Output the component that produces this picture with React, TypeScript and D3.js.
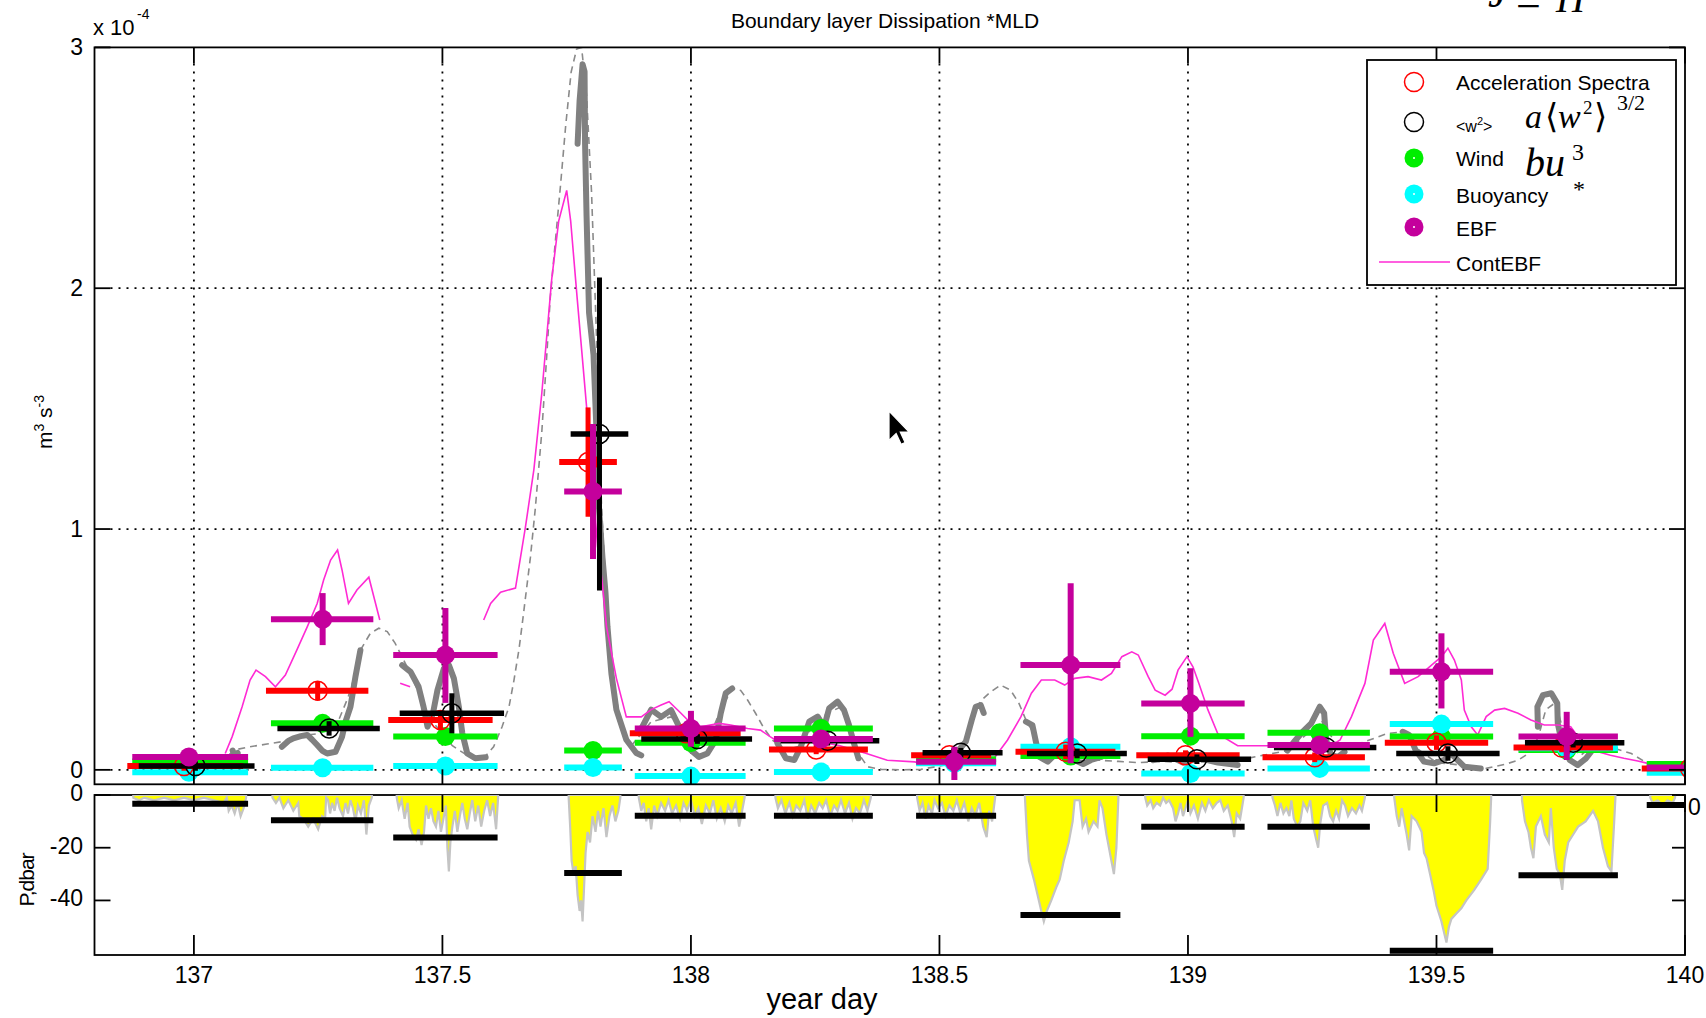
import React from "react";
import * as d3 from "d3";

// ---------- axes / ticks ----------
const xTicks = [137, 137.5, 138, 138.5, 139, 139.5, 140];
const xTickLabels = ["137", "137.5", "138", "138.5", "139", "139.5", "140"];
const xGrid = [137, 137.5, 138, 138.5, 139, 139.5];
const yTicksMain = [0, 1, 2, 3];
const yGridMain = [0, 1, 2];
const yTicksBot = [0, -20, -40];

// ---------- profile intervals (year day) ----------
const intStart = [136.876, 137.155, 137.401, 137.745, 137.887, 138.167, 138.453, 138.663, 138.906, 139.16, 139.406, 139.665, 139.923];
const intEnd = [137.109, 137.361, 137.611, 137.861, 138.11, 138.366, 138.614, 138.864, 139.114, 139.366, 139.614, 139.865, 140.12];
const intCenter = [136.99, 137.259, 137.506, 137.803, 138.0, 138.262, 138.53, 138.764, 139.005, 139.265, 139.51, 139.762, 140.02];

// ---------- dissipation estimates (x 1e-4 m^3 s^-3) ----------
const accelVal = [0.016, 0.328, 0.207, 1.278, 0.152, 0.085, 0.061, 0.075, 0.061, 0.052, 0.113, 0.093, 0.006];
const accelErr = [0.02, 0.04, 0.04, 0.227, 0.02, 0.02, 0.02, 0.03, 0.02, 0.02, 0.03, 0.02, 0];
const w2Val = [0.016, 0.172, 0.235, 1.395, 0.128, 0.121, 0.071, 0.068, 0.044, 0.093, 0.068, 0.113, null];
const w2Err = [0.02, 0.03, 0.083, 0.65, 0.02, 0.02, 0.02, 0.02, 0.02, 0.02, 0.03, 0.02, 0];
const windVal = [0.035, 0.193, 0.138, 0.08, 0.113, 0.172, 0.044, 0.057, 0.14, 0.154, 0.138, 0.082, 0.024];
const buoyVal = [-0.01, 0.009, 0.016, 0.01, -0.026, -0.009, 0.027, 0.096, -0.015, 0.006, 0.19, 0.09, -0.012];
const ebfVal = [0.053, 0.625, 0.477, 1.156, 0.172, 0.128, 0.034, 0.435, 0.276, 0.103, 0.407, 0.138, 0.01];
const ebfErrUp = [0.03, 0.109, 0.195, 0.28, 0.073, 0.02, 0.062, 0.34, 0.146, 0.03, 0.16, 0.103, 0];
const ebfErrDown = [0.03, 0.107, 0.199, 0.28, 0.076, 0.02, 0.076, 0.408, 0.139, 0.03, 0.152, 0.097, 0];

// ---------- continuous dissipation (thick gray, per profile) ----------
const dissGray: number[][][] = [
  [[137.078, 0.08], [137.082, 0.06], [137.088, 0.07]],
  [[137.177, 0.096], [137.19, 0.12], [137.2, 0.131], [137.215, 0.14], [137.228, 0.145], [137.238, 0.125], [137.248, 0.103], [137.258, 0.08], [137.268, 0.068], [137.285, 0.075], [137.298, 0.137], [137.305, 0.2], [137.315, 0.262], [137.325, 0.387], [137.335, 0.497]],
  [[137.419, 0.435], [137.436, 0.407], [137.452, 0.345], [137.462, 0.262], [137.47, 0.179], [137.481, 0.235], [137.49, 0.331], [137.503, 0.421], [137.513, 0.435], [137.523, 0.38], [137.533, 0.262], [137.54, 0.152], [137.55, 0.068], [137.566, 0.048], [137.587, 0.052]],
  [[137.772, 2.6], [137.776, 2.78], [137.782, 2.93], [137.786, 2.9], [137.787, 2.6], [137.79, 2.3], [137.795, 1.898], [137.804, 1.723], [137.81, 1.405], [137.815, 1.088], [137.822, 0.882], [137.828, 0.739], [137.832, 0.596], [137.84, 0.4], [137.85, 0.25], [137.87, 0.125], [137.89, 0.07], [137.9, 0.06]],
  [[137.9, 0.17], [137.92, 0.25], [137.94, 0.22], [137.96, 0.248], [137.973, 0.193], [137.986, 0.137], [138.0, 0.082], [138.016, 0.054], [138.033, 0.068], [138.05, 0.124], [138.06, 0.235], [138.07, 0.318], [138.083, 0.338]],
  [[138.174, 0.11], [138.191, 0.048], [138.208, 0.041], [138.221, 0.096], [138.238, 0.2], [138.255, 0.221], [138.268, 0.179], [138.278, 0.255], [138.295, 0.283], [138.308, 0.248], [138.318, 0.186], [138.327, 0.117], [138.337, 0.048]],
  [[138.536, 0.075], [138.553, 0.117], [138.565, 0.207], [138.573, 0.262], [138.583, 0.269], [138.589, 0.236]],
  [[138.674, 0.2], [138.687, 0.186], [138.694, 0.117], [138.701, 0.054], [138.718, 0.034], [138.738, 0.075], [138.755, 0.068], [138.772, 0.041], [138.789, 0.024], [138.805, 0.041], [138.826, 0.054], [138.84, 0.08], [138.85, 0.06]],
  [[138.93, 0.04], [138.96, 0.06], [138.99, 0.03], [139.02, 0.05], [139.06, 0.03], [139.1, 0.02]],
  [[139.2, 0.08], [139.215, 0.12], [139.228, 0.152], [139.248, 0.193], [139.265, 0.262], [139.274, 0.235], [139.278, 0.124], [139.288, 0.061], [139.302, 0.054], [139.315, 0.075]],
  [[139.432, 0.158], [139.445, 0.145], [139.458, 0.082], [139.475, 0.034], [139.495, 0.027], [139.516, 0.041], [139.529, 0.068], [139.542, 0.041], [139.556, 0.013], [139.589, 0.006]],
  [[139.704, 0.179], [139.703, 0.262], [139.714, 0.31], [139.731, 0.318], [139.743, 0.276], [139.744, 0.193], [139.754, 0.096], [139.768, 0.041], [139.784, 0.02], [139.801, 0.048], [139.811, 0.075]],
];

// ---------- smoothed dissipation (dashed gray) ----------
const dissSmooth = [
  [137.07, 0.06], [137.08, 0.082], [137.113, 0.096], [137.147, 0.107], [137.177, 0.117], [137.2, 0.131], [137.228, 0.145], [137.25, 0.15], [137.27, 0.17], [137.29, 0.2], [137.31, 0.3], [137.325, 0.4], [137.335, 0.497], [137.355, 0.567], [137.372, 0.588], [137.389, 0.574], [137.405, 0.525], [137.422, 0.456], [137.44, 0.38], [137.46, 0.28], [137.48, 0.2], [137.5, 0.15], [137.52, 0.1], [137.55, 0.06], [137.583, 0.048], [137.603, 0.096], [137.62, 0.179], [137.634, 0.262], [137.644, 0.373], [137.654, 0.5], [137.66, 0.596], [137.677, 0.882], [137.687, 1.088], [137.7, 1.405], [137.71, 1.723], [137.717, 1.961], [137.726, 2.167], [137.738, 2.437], [137.748, 2.675], [137.759, 2.898], [137.77, 2.993], [137.78, 3.0], [137.79, 2.8], [137.8, 2.4], [137.81, 1.8], [137.82, 1.1], [137.83, 0.7], [137.845, 0.35], [137.86, 0.18], [137.88, 0.1], [137.9, 0.15], [137.92, 0.2], [137.96, 0.22], [138.0, 0.15], [138.04, 0.15], [138.06, 0.25], [138.083, 0.338], [138.1, 0.33], [138.114, 0.29], [138.13, 0.235], [138.147, 0.172], [138.164, 0.124], [138.19, 0.08], [138.22, 0.1], [138.25, 0.2], [138.28, 0.24], [138.3, 0.26], [138.32, 0.18], [138.34, 0.06], [138.355, 0.013], [138.383, 0.002], [138.423, 0], [138.463, 0.002], [138.51, 0.02], [138.536, 0.075], [138.553, 0.117], [138.565, 0.207], [138.575, 0.26], [138.585, 0.29], [138.603, 0.324], [138.623, 0.352], [138.643, 0.331], [138.66, 0.276], [138.674, 0.207], [138.69, 0.15], [138.71, 0.06], [138.74, 0.06], [138.78, 0.04], [138.82, 0.04], [138.86, 0.035], [138.9, 0.03], [138.95, 0.035], [139.0, 0.03], [139.05, 0.035], [139.1, 0.04], [139.15, 0.06], [139.2, 0.08], [139.24, 0.15], [139.27, 0.2], [139.3, 0.1], [139.33, 0.1], [139.36, 0.12], [139.4, 0.15], [139.43, 0.158], [139.46, 0.09], [139.5, 0.03], [139.55, 0.02], [139.6, 0.006], [139.64, 0.024], [139.665, 0.041], [139.69, 0.075], [139.705, 0.138], [139.72, 0.25], [139.74, 0.28], [139.76, 0.12], [139.79, 0.06], [139.811, 0.096], [139.858, 0.089], [139.892, 0.068], [139.919, 0.034], [139.952, 0.027], [140, 0.024],
];

// ---------- ContEBF (pink), with gaps ----------
const contEbf: number[][][] = [
  [[137.063, 0.068], [137.077, 0.138], [137.097, 0.262], [137.113, 0.373], [137.125, 0.414], [137.144, 0.387], [137.164, 0.345], [137.184, 0.394], [137.207, 0.497], [137.228, 0.594], [137.248, 0.691], [137.261, 0.788], [137.275, 0.871], [137.289, 0.913], [137.298, 0.83], [137.311, 0.691], [137.328, 0.747], [137.352, 0.8], [137.362, 0.719], [137.374, 0.622]],
  [[137.415, 0.36], [137.435, 0.345]],
  [[137.583, 0.622], [137.597, 0.691], [137.617, 0.738], [137.647, 0.755], [137.667, 1.008], [137.684, 1.247], [137.7, 1.565], [137.72, 2.04], [137.734, 2.28], [137.75, 2.406], [137.758, 2.28], [137.771, 1.961], [137.781, 1.723], [137.791, 1.485], [137.802, 1.2], [137.812, 0.93], [137.822, 0.77], [137.83, 0.596], [137.85, 0.38], [137.87, 0.22], [137.9, 0.22], [137.92, 0.25], [137.94, 0.269], [137.956, 0.283], [137.98, 0.235], [138.0, 0.193], [138.02, 0.179], [138.057, 0.193], [138.08, 0.186], [138.114, 0.172], [138.14, 0.165], [138.16, 0.137], [138.17, 0.124], [138.2, 0.12], [138.25, 0.12], [138.3, 0.1], [138.35, 0.07], [138.395, 0.04], [138.45, 0.033], [138.463, 0.027], [138.53, 0.03], [138.577, 0.041], [138.61, 0.048], [138.637, 0.124], [138.664, 0.221], [138.685, 0.318], [138.705, 0.373], [138.732, 0.373], [138.752, 0.352], [138.772, 0.38], [138.799, 0.387], [138.826, 0.373], [138.846, 0.4], [138.867, 0.47], [138.887, 0.49], [138.9, 0.477], [138.92, 0.387], [138.934, 0.331], [138.954, 0.31], [138.968, 0.335], [138.98, 0.414], [138.998, 0.47], [139.01, 0.428], [139.022, 0.359], [139.04, 0.25], [139.06, 0.15], [139.1, 0.1], [139.2, 0.1], [139.28, 0.09], [139.306, 0.124], [139.329, 0.221], [139.356, 0.359], [139.373, 0.539], [139.396, 0.608], [139.413, 0.484], [139.436, 0.359], [139.463, 0.387], [139.486, 0.428], [139.51, 0.47], [139.523, 0.505], [139.536, 0.456], [139.55, 0.373], [139.556, 0.248], [139.57, 0.179], [139.583, 0.145], [139.6, 0.221], [139.617, 0.248], [139.637, 0.255], [139.664, 0.235], [139.69, 0.207], [139.717, 0.186], [139.744, 0.186], [139.77, 0.179], [139.797, 0.103], [139.825, 0.075], [139.85, 0.061], [139.877, 0.048], [139.905, 0.037], [139.925, 0.027], [139.95, 0.02], [140, 0.02]],
];

// ---------- pressure record (dbar) per profile ----------
const pressure: number[][][] = [
  [[136.878, -1], [136.89, -2], [136.9, -1], [136.92, -2], [136.94, -1], [136.96, -2], [136.98, -1], [137.0, -2], [137.02, -1], [137.04, -2], [137.06, -3], [137.066, -1], [137.07, -6], [137.076, -4], [137.082, -7], [137.088, -3], [137.094, -8], [137.1, -5], [137.105, -1]],
  [[137.158, -1], [137.165, -3], [137.172, -1], [137.18, -5], [137.19, -2], [137.2, -6], [137.21, -3], [137.212, -8], [137.22, -9], [137.23, -12], [137.24, -9], [137.25, -13], [137.258, -8], [137.264, -9], [137.266, -1], [137.27, -2], [137.274, -7], [137.278, -3], [137.283, -6], [137.288, -1], [137.293, -5], [137.3, -8], [137.305, -3], [137.31, -7], [137.315, -2], [137.32, -5], [137.325, -10], [137.33, -4], [137.336, -7], [137.342, -2], [137.347, -15], [137.352, -4], [137.358, -1]],
  [[137.408, -1], [137.412, -5], [137.418, -2], [137.424, -9], [137.43, -3], [137.434, -12], [137.44, -15], [137.447, -17], [137.452, -13], [137.458, -19], [137.463, -14], [137.467, -4], [137.472, -9], [137.477, -5], [137.482, -10], [137.487, -12], [137.492, -6], [137.497, -14], [137.502, -9], [137.507, -4], [137.51, -20], [137.513, -29], [137.516, -18], [137.52, -12], [137.525, -6], [137.53, -14], [137.535, -8], [137.54, -3], [137.545, -9], [137.55, -13], [137.555, -7], [137.56, -2], [137.566, -10], [137.572, -4], [137.578, -12], [137.584, -6], [137.59, -2], [137.596, -8], [137.602, -3], [137.608, -13], [137.612, -1]],
  [[137.754, -1], [137.757, -12], [137.76, -25], [137.764, -30], [137.768, -27], [137.772, -38], [137.776, -44], [137.779, -40], [137.782, -48], [137.785, -35], [137.788, -22], [137.792, -14], [137.797, -18], [137.802, -8], [137.808, -14], [137.813, -6], [137.818, -12], [137.824, -5], [137.83, -16], [137.836, -8], [137.842, -4], [137.848, -10], [137.854, -6], [137.858, -1]],
  [[137.895, -1], [137.9, -6], [137.905, -3], [137.91, -10], [137.915, -5], [137.92, -13], [137.926, -4], [137.932, -8], [137.94, -3], [137.948, -6], [137.955, -2], [137.962, -7], [137.97, -4], [137.978, -9], [137.985, -3], [137.992, -6], [138.0, -2], [138.008, -8], [138.015, -5], [138.022, -11], [138.03, -4], [138.038, -7], [138.045, -2], [138.052, -9], [138.06, -5], [138.068, -10], [138.075, -4], [138.082, -7], [138.09, -3], [138.097, -12], [138.103, -6], [138.108, -1]],
  [[138.17, -1], [138.175, -5], [138.182, -2], [138.19, -7], [138.198, -3], [138.205, -8], [138.212, -4], [138.22, -6], [138.228, -2], [138.235, -9], [138.242, -4], [138.25, -7], [138.258, -3], [138.265, -5], [138.272, -2], [138.28, -8], [138.288, -4], [138.295, -6], [138.302, -2], [138.31, -7], [138.318, -3], [138.325, -9], [138.332, -5], [138.34, -7], [138.348, -2], [138.355, -6], [138.362, -1]],
  [[138.455, -1], [138.46, -6], [138.466, -3], [138.472, -9], [138.478, -4], [138.485, -7], [138.49, -2], [138.497, -5], [138.505, -3], [138.512, -8], [138.52, -4], [138.528, -6], [138.535, -2], [138.542, -7], [138.55, -3], [138.558, -10], [138.565, -5], [138.572, -8], [138.58, -3], [138.588, -12], [138.595, -16], [138.6, -6], [138.606, -10], [138.612, -1]],
  [[138.672, -1], [138.676, -15], [138.68, -25], [138.69, -32], [138.7, -40], [138.706, -45], [138.71, -48], [138.716, -44], [138.725, -40], [138.735, -35], [138.742, -32], [138.75, -25], [138.76, -18], [138.768, -10], [138.772, -2], [138.782, -2], [138.788, -12], [138.795, -9], [138.8, -14], [138.81, -10], [138.818, -12], [138.822, -2], [138.828, -5], [138.836, -15], [138.845, -24], [138.851, -30], [138.856, -20], [138.86, -1]],
  [[138.914, -1], [138.918, -4], [138.925, -2], [138.93, -5], [138.937, -3], [138.944, -4], [138.95, -1], [138.956, -3], [138.962, -2], [138.97, -5], [138.975, -10], [138.98, -7], [138.985, -3], [138.99, -8], [138.995, -5], [139.0, -2], [139.005, -7], [139.012, -4], [139.02, -9], [139.028, -3], [139.035, -6], [139.042, -2], [139.05, -5], [139.058, -3], [139.065, -2], [139.072, -6], [139.08, -4], [139.088, -10], [139.093, -16], [139.098, -7], [139.105, -9], [139.112, -1]],
  [[139.17, -1], [139.175, -4], [139.18, -8], [139.186, -3], [139.192, -7], [139.198, -5], [139.204, -8], [139.208, -2], [139.213, -9], [139.22, -12], [139.226, -10], [139.232, -3], [139.24, -6], [139.246, -2], [139.252, -12], [139.258, -17], [139.262, -20], [139.266, -11], [139.272, -4], [139.28, -3], [139.286, -8], [139.292, -10], [139.298, -6], [139.304, -9], [139.31, -2], [139.316, -4], [139.322, -8], [139.33, -5], [139.338, -7], [139.345, -4], [139.35, -6], [139.356, -1]],
  [[139.415, -1], [139.42, -8], [139.425, -12], [139.43, -5], [139.44, -15], [139.445, -21], [139.45, -8], [139.46, -10], [139.47, -14], [139.475, -22], [139.48, -24], [139.487, -30], [139.494, -36], [139.5, -42], [139.51, -48], [139.52, -56], [139.525, -50], [139.53, -47], [139.54, -45], [139.55, -43], [139.56, -40], [139.576, -36], [139.59, -32], [139.603, -28], [139.608, -10], [139.61, -1]],
  [[139.672, -2], [139.678, -10], [139.685, -14], [139.69, -20], [139.695, -24], [139.7, -12], [139.71, -8], [139.718, -15], [139.726, -18], [139.73, -5], [139.736, -20], [139.742, -28], [139.748, -30], [139.753, -36], [139.758, -25], [139.765, -18], [139.775, -15], [139.785, -12], [139.8, -10], [139.815, -6], [139.825, -10], [139.835, -20], [139.845, -27], [139.852, -29], [139.857, -12], [139.86, -1]],
  [[139.93, -1], [139.935, -3], [139.945, -2], [139.955, -4], [139.965, -2], [139.975, -3], [139.98, -1]],
];
const mldDepth = [-3.3, -9.6, -16.1, -29.6, -7.9, -7.9, -7.9, -45.5, -12, -12, -59.1, -30.4, -3.8];

// ---------- legend ----------
const legendLabels = ["Acceleration Spectra", "<w", "Wind", "Buoyancy", "EBF", "ContEBF"];

const SANS = "'Liberation Sans', Arial, Helvetica, sans-serif";
const SERIF = "'Liberation Serif', 'DejaVu Serif', 'Times New Roman', serif";

const L = 94.5, R = 1685, T = 47.4, B = 784.3;
const BT = 795, BB = 955;

const x = d3.scaleLinear().domain([136.8, 140]).range([L, R]);
const yMain = d3.scaleLinear().domain([-0.06, 3]).range([B, T]);
const yBot = d3.scaleLinear().domain([-60.7, 0]).range([BB, BT]);

const PINK = "#ff2ad4";
const MAG = "#c4009c";

type Series = {
  key: string; color: string; vals: (number | null)[]; up: number[]; down: number[];
  shift: number; open: boolean; hw: number; vw: number;
};

const zeros = intCenter.map(() => 0);
const seriesList: Series[] = [
  { key: "wind", color: "#00ee00", vals: windVal, up: zeros, down: zeros, shift: 0, open: false, hw: 6, vw: 4 },
  { key: "buoy", color: "#00ffff", vals: buoyVal, up: zeros, down: zeros, shift: 0, open: false, hw: 6, vw: 4 },
  { key: "accel", color: "#ff0000", vals: accelVal, up: accelErr, down: accelErr, shift: -0.01, open: true, hw: 6, vw: 5 },
  { key: "w2", color: "#000000", vals: w2Val, up: w2Err, down: w2Err, shift: 0.013, open: true, hw: 5.5, vw: 5 },
  { key: "ebf", color: MAG, vals: ebfVal, up: ebfErrUp, down: ebfErrDown, shift: 0, open: false, hw: 6, vw: 6 },
];

export default function App() {
  const lineMain = d3.line<number[]>().x((d) => x(d[0])).y((d) => yMain(d[1]));
  const areaBot = d3.area<number[]>().x((d) => x(d[0])).y0(yBot(0)).y1((d) => yBot(d[1]));
  const legY = [82, 122, 158, 194, 227, 262];

  return (
    <svg width={1706} height={1018} style={{ position: "absolute", left: 0, top: 0, background: "#fff" }} fontFamily={SANS}>
      <defs>
        <clipPath id="clipMain"><rect x={L} y={T} width={R - L} height={B - T} /></clipPath>
        <clipPath id="clipBot"><rect x={L} y={BT} width={R - L} height={BB - BT} /></clipPath>
      </defs>
      <rect x={0} y={0} width={1706} height={1018} fill="#fff" />

      {/* cut-off formula at top right */}
      <g fontFamily={SERIF} fontStyle="italic" fill="#000">
        <text x={1488} y={7} fontSize={44}>J</text>
        <text x={1516} y={16} fontSize={44} fontStyle="normal">=</text>
        <text x={1556} y={12} fontSize={40}>H</text>
      </g>

      {/* title */}
      <text x={885} y={28} textAnchor="middle" fontSize={21}>Boundary layer Dissipation *MLD</text>

      {/* ===== main panel ===== */}
      <rect x={L} y={T} width={R - L} height={B - T} fill="#fff" />
      <g stroke="#000" strokeWidth={1.8} strokeDasharray="2,6">
        {xGrid.map((t) => <line key={"gx" + t} x1={x(t)} x2={x(t)} y1={T + 16} y2={B - 15} />)}
        {yGridMain.map((t) => <line key={"gy" + t} x1={L + 16} x2={R - 16} y1={yMain(t)} y2={yMain(t)} />)}
      </g>

      <g clipPath="url(#clipMain)">
        <path d={lineMain(dissSmooth) || ""} fill="none" stroke="#8a8a8a" strokeWidth={1.6} strokeDasharray="7,5" />
        {dissGray.map((seg, i) => (
          <path key={"g" + i} d={lineMain(seg) || ""} fill="none" stroke="#808080" strokeWidth={6} strokeLinejoin="round" strokeLinecap="round" />
        ))}
        {contEbf.map((seg, i) => (
          <path key={"p" + i} d={lineMain(seg) || ""} fill="none" stroke={PINK} strokeWidth={1.6} />
        ))}
        {seriesList.map((s) => (
          <g key={s.key}>
            {s.vals.map((v, i) => {
              if (v === null || v === undefined) return null;
              const cx = x(intCenter[i] + s.shift);
              const cy = yMain(v);
              return (
                <g key={i}>
                  <line x1={x(intStart[i] + s.shift)} x2={x(intEnd[i] + s.shift)} y1={cy} y2={cy} stroke={s.color} strokeWidth={s.hw} />
                  {(s.up[i] > 0 || s.down[i] > 0) && (
                    <line x1={cx} x2={cx} y1={yMain(v + s.up[i])} y2={yMain(v - s.down[i])} stroke={s.color} strokeWidth={s.vw} />
                  )}
                  {s.open ? (
                    <circle cx={cx} cy={cy} r={9.5} fill="none" stroke={s.color} strokeWidth={1.5} />
                  ) : (
                    <circle cx={cx} cy={cy} r={9.5} fill={s.color} />
                  )}
                </g>
              );
            })}
          </g>
        ))}
      </g>

      {/* main ticks & box */}
      <g stroke="#000" strokeWidth={1.8}>
        {xTicks.map((t) => (
          <g key={"mt" + t}>
            <line x1={x(t)} x2={x(t)} y1={T} y2={T + 16} />
            <line x1={x(t)} x2={x(t)} y1={B} y2={B - 15} />
          </g>
        ))}
        {yTicksMain.map((t) => (
          <g key={"my" + t}>
            <line x1={L} x2={L + 16} y1={yMain(t)} y2={yMain(t)} />
            <line x1={R} x2={R - 16} y1={yMain(t)} y2={yMain(t)} />
          </g>
        ))}
      </g>
      <rect x={L} y={T} width={R - L} height={B - T} fill="none" stroke="#000" strokeWidth={1.8} />
      <g fontSize={23} textAnchor="end">
        {yTicksMain.map((t) => <text key={"myl" + t} x={83} y={yMain(t) + 8}>{t}</text>)}
      </g>
      <text x={93} y={35} fontSize={22}>x 10</text>
      <text x={137} y={19} fontSize={14}>-4</text>
      <text transform="translate(52,422) rotate(-90)" textAnchor="middle" fontSize={21}>
        m<tspan dy={-8} fontSize={14}>3</tspan><tspan dy={8}> s</tspan><tspan dy={-8} fontSize={14}>-3</tspan>
      </text>

      {/* legend */}
      <rect x={1367} y={60} width={309} height={225} fill="#fff" stroke="#000" strokeWidth={1.8} />
      <circle cx={1414} cy={legY[0]} r={9.5} fill="none" stroke="#ff0000" strokeWidth={1.5} />
      <circle cx={1414} cy={legY[1]} r={9.5} fill="none" stroke="#000" strokeWidth={1.5} />
      <circle cx={1414} cy={legY[2]} r={9.5} fill="#00ee00" />
      <circle cx={1414} cy={legY[3]} r={9.5} fill="#00ffff" />
      <circle cx={1414} cy={legY[4]} r={9.5} fill={MAG} />
      {[2, 3, 4].map((i) => <circle key={"wd" + i} cx={1414} cy={legY[i]} r={1} fill="#fff" />)}
      <line x1={1379} x2={1450} y1={legY[5]} y2={legY[5]} stroke={PINK} strokeWidth={1.6} />
      <g fontSize={21}>
        <text x={1456} y={legY[0] + 8}>{legendLabels[0]}</text>
        <text x={1456} y={legY[1] + 10} fontSize={16}>{legendLabels[1]}<tspan dy={-7} fontSize={11}>2</tspan><tspan dy={7}>&gt;</tspan></text>
        <text x={1456} y={legY[2] + 8}>{legendLabels[2]}</text>
        <text x={1456} y={legY[3] + 9}>{legendLabels[3]}</text>
        <text x={1456} y={legY[4] + 9}>{legendLabels[4]}</text>
        <text x={1456} y={legY[5] + 9}>{legendLabels[5]}</text>
      </g>
      <g fontFamily={SERIF} fill="#000">
        <text x={1525} y={128} fontSize={34} fontStyle="italic">a</text>
        <text x={1545} y={128} fontSize={34}>⟨</text>
        <text x={1558} y={128} fontSize={34} fontStyle="italic">w</text>
        <text x={1583} y={114} fontSize={19}>2</text>
        <text x={1594} y={128} fontSize={34}>⟩</text>
        <text x={1617} y={110} fontSize={22}>3/2</text>
        <text x={1525} y={176} fontSize={40} fontStyle="italic">bu</text>
        <text x={1572} y={160} fontSize={24}>3</text>
        <text x={1573} y={197} fontSize={24}>*</text>
      </g>

      {/* mouse cursor */}
      <path d="M0,0 L0,19 L4.6,14.6 L7.8,21.5 L10.4,20.3 L7.3,13.6 L13,13.6 Z" transform="translate(889,411) scale(1.55)" fill="#000" stroke="#fff" strokeWidth={0.8} />

      {/* ===== bottom panel ===== */}
      <rect x={L} y={BT} width={R - L} height={BB - BT} fill="#fff" stroke="#000" strokeWidth={1.8} />
      <g clipPath="url(#clipBot)">
        {pressure.map((seg, i) => (
          <path key={"a" + i} d={areaBot(seg) || ""} fill="#ffff00" stroke="#c4c4c4" strokeWidth={2.2} strokeLinejoin="miter" />
        ))}
        {mldDepth.map((v, i) => (
          <line key={"mld" + i} x1={x(intStart[i])} x2={x(intEnd[i])} y1={yBot(v)} y2={yBot(v)} stroke="#000" strokeWidth={6} />
        ))}
      </g>
      <g stroke="#000" strokeWidth={1.8}>
        {xTicks.map((t) => (
          <g key={"bt" + t}>
            <line x1={x(t)} x2={x(t)} y1={BT} y2={BT + 17} />
            <line x1={x(t)} x2={x(t)} y1={BB} y2={BB - 20} />
          </g>
        ))}
        {yTicksBot.map((t) => (
          <g key={"by" + t}>
            <line x1={L} x2={L + 16} y1={yBot(t)} y2={yBot(t)} />
            <line x1={R} x2={R - 13} y1={yBot(t)} y2={yBot(t)} />
          </g>
        ))}
      </g>
      <g fontSize={23} textAnchor="end">
        {yTicksBot.map((t) => <text key={"byl" + t} x={83} y={yBot(t) + 6}>{t}</text>)}
      </g>
      <text x={1688} y={815} fontSize={23}>0</text>
      <text transform="translate(34,880) rotate(-90)" textAnchor="middle" fontSize={21} letterSpacing={-1}>P,dbar</text>

      {/* x tick labels */}
      <g fontSize={23} textAnchor="middle">
        {xTicks.map((t, i) => <text key={"xl" + t} x={x(t)} y={983}>{xTickLabels[i]}</text>)}
      </g>
      <text x={822} y={1009} textAnchor="middle" fontSize={29}>year day</text>
    </svg>
  );
}
